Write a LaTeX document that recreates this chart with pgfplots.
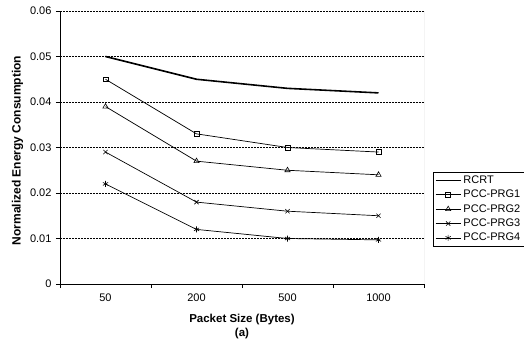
\documentclass[border=0pt]{standalone}
\usepackage{fontspec}
\setmainfont{Liberation Sans}
\usepackage{pgfplots}
\pgfplotsset{compat=1.18}
\begin{document}
\begin{tikzpicture}[font=\fontsize{11bp}{13bp}\selectfont]
\path[use as bounding box] (0,0) rectangle (524bp,347bp);
\begin{axis}[
  at={(60bp,63bp)}, anchor=south west,
  scale only axis, width=364bp, height=273bp,
  xmin=-0.5, xmax=3.5, ymin=0, ymax=0.06,
  axis x line*=bottom, axis y line*=left,
  axis line style={black, line width=1pt},
  /pgf/number format/assume math mode=true,
  scaled y ticks=false,
  xtick={-0.5,0.5,1.5,2.5,3.5}, xticklabels={},
  extra x ticks={0,1,2,3}, extra x tick labels={50,200,500,1000},
  extra x tick style={major tick length=0pt},
  ytick={0,0.01,0.02,0.03,0.04,0.05,0.06},
  yticklabels={0,0.01,0.02,0.03,0.04,0.05,0.06},
  tick align=outside, major tick length=4bp,
  tick style={black, line width=0.8pt},
  ymajorgrids, grid style={black, line width=0.6pt, dash pattern=on 2pt off 1pt},
  x tick label style={yshift=-6bp},
  y tick label style={xshift=-1bp},
  xlabel={\textbf{Packet Size (Bytes)}\\\textbf{(a)}},
  xlabel style={align=center, yshift=-2bp, font=\fontsize{11.5bp}{14bp}\selectfont},
  ylabel={\textbf{Normalized Energy Consumption}},
  ylabel style={xshift=-3bp, font=\fontsize{12bp}{14bp}\selectfont},
  legend style={at={(rel axis cs:1.025,0.41)}, anchor=north west, draw=black, line width=0.6pt,
    inner sep=1.5bp, row sep=1.2bp, font=\fontsize{11bp}{13bp}\selectfont,
    legend cell align=left},
  legend image code/.code={\draw[mark repeat=2,mark phase=2] plot coordinates {(0bp,0bp)(12.5bp,0bp)(25bp,0bp)};},
  every axis plot/.append style={black},
]
\draw[gray!70, line width=0.8pt] (rel axis cs:1,0) -- (rel axis cs:1,1);
\addplot[line width=1.6pt] coordinates {(0,0.050) (1,0.045) (2,0.043) (3,0.042)};
\addlegendentry{RCRT}
\addplot[line width=0.7pt, mark=square, mark size=2.4bp, mark options={line width=0.6pt}] coordinates {(0,0.045) (1,0.033) (2,0.030) (3,0.029)};
\addlegendentry{PCC-PRG1}
\addplot[line width=0.7pt, mark=triangle, mark size=3bp, mark options={line width=0.6pt}] coordinates {(0,0.039) (1,0.027) (2,0.025) (3,0.024)};
\addlegendentry{PCC-PRG2}
\addplot[line width=0.7pt, mark=x, mark size=3bp, mark options={line width=0.6pt}] coordinates {(0,0.029) (1,0.018) (2,0.016) (3,0.015)};
\addlegendentry{PCC-PRG3}
\addplot[line width=0.7pt, mark=asterisk, mark size=3bp, mark options={line width=0.6pt}] coordinates {(0,0.022) (1,0.012) (2,0.010) (3,0.0097)};
\addlegendentry{PCC-PRG4}
\end{axis}
\end{tikzpicture}
\end{document}
